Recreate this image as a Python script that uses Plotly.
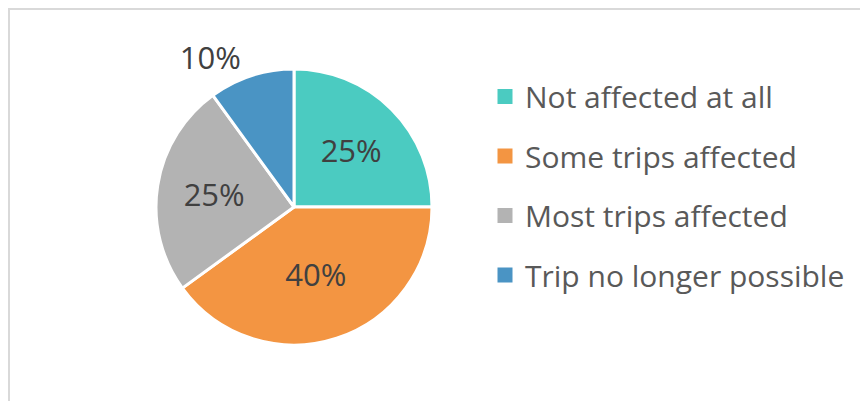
import plotly.graph_objects as go

categories = ["Not affected at all", "Some trips affected", "Most trips affected", "Trip no longer possible"]
values = [25, 40, 25, 10]
colors = ["#4BCBC1", "#F39542", "#B3B3B3", "#4A94C4"]
text_positions = ["inside", "inside", "inside", "outside"]

W, H = 868, 401
# page is offset by the 8px body margin
cx, cy, r = 286, 199, 138

fig = go.Figure()
fig.add_trace(go.Pie(
    labels=categories, values=values, sort=False, direction="clockwise", rotation=0,
    marker=dict(colors=colors, line=dict(color="white", width=3)),
    texttemplate="%{value}%", textposition=text_positions,
    insidetextorientation="horizontal",
    textfont=dict(family="Open Sans", size=31, color="#404040"),
    showlegend=False, hoverinfo="label+value",
    domain=dict(x=[(cx - r) / W, (cx + r) / W], y=[1 - (cy + r) / H, 1 - (cy - r) / H]),
))
for i, (cat, col) in enumerate(zip(categories, colors)):
    fig.add_trace(go.Scatter(
        x=[None], y=[None], mode="markers", name=cat, legendgroup=f"g{i}",
        marker=dict(symbol="square", size=15, color=col, line=dict(width=0)),
    ))

fig.update_layout(
    width=W, height=H, margin=dict(l=0, r=0, t=0, b=0),
    paper_bgcolor="white", plot_bgcolor="white",
    xaxis=dict(visible=False), yaxis=dict(visible=False),
    legend=dict(x=477 / W, xanchor="left", y=1 - 178 / H, yanchor="middle",
                font=dict(family="Open Sans", size=30, color="#595959"),
                tracegroupgap=17.5, itemsizing="trace", bgcolor="rgba(0,0,0,0)"),
    shapes=[dict(type="rect", xref="paper", yref="paper",
                 x0=1 / W, x1=1.2, y0=-0.2, y1=1 - 1 / H,
                 line=dict(color="#D9D9D9", width=2), fillcolor="rgba(0,0,0,0)", layer="below")],
)
fig.write_html("out.html")
